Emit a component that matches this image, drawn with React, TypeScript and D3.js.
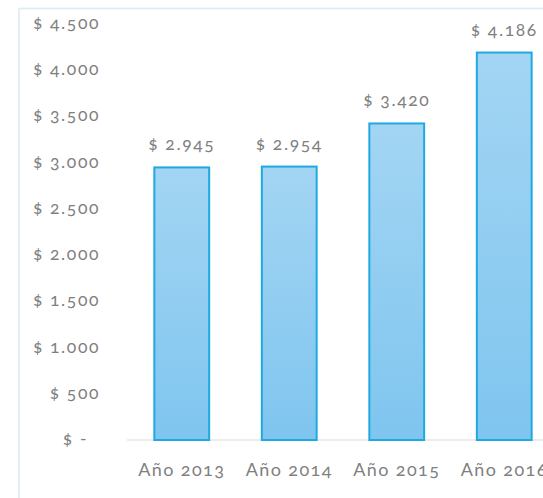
import React from "react";
import * as d3 from "d3";

const categories = ["Año 2013", "Año 2014", "Año 2015", "Año 2016"];
const values = [2945, 2954, 3420, 4186];
const valueLabels = ["$ 2.945", "$ 2.954", "$ 3.420", "$ 4.186"];
const yTicks = [0, 500, 1000, 1500, 2000, 2500, 3000, 3500, 4000, 4500];
const yTickLabels = ["$ -", "$ 500", "$ 1.000", "$ 1.500", "$ 2.000", "$ 2.500", "$ 3.000", "$ 3.500", "$ 4.000", "$ 4.500"];

const W = 543;
const H = 498;
const FONT = "Lato, 'Open Sans', sans-serif";
const TEXT = "#808080";
const txtStyle = { fontVariantNumeric: "oldstyle-nums", letterSpacing: "1.6px" } as React.CSSProperties;

export default function App() {
  const x = d3.scaleBand<string>().domain(categories).range([128, 558]).paddingInner(0.49).paddingOuter(0.245);
  const y = d3.scaleLinear().domain([0, 4500]).range([440, 23.5]);
  return (
    <svg width={W} height={H} style={{ position: "absolute", left: 0, top: 0, background: "#fff" }}
      fontFamily={FONT}>
      <defs>
        <linearGradient id="bg" x1="0" y1="0" x2="0" y2="1">
          <stop offset="0%" stopColor="#a3d5f3" />
          <stop offset="100%" stopColor="#7fc5ef" />
        </linearGradient>
      </defs>
      <rect x={19} y={8.5} width={W} height={H} fill="none" stroke="#dcecf3" strokeWidth={1.6} />
      <line x1={127} x2={W} y1={y(0)} y2={y(0)} stroke="#d9d9d9" strokeWidth={1.2} />
      {yTicks.map((t, i) => (
        <text key={t} x={t === 0 ? 88 : 100} y={y(t)} dy="0.3em" textAnchor="end" fill={TEXT}
          fontSize={17.5} style={txtStyle}>
          {yTickLabels[i]}
        </text>
      ))}
      {categories.map((c, i) => {
        const bx = x(c)!;
        const bw = x.bandwidth();
        return (
          <g key={c}>
            <rect x={bx} y={y(values[i])} width={bw} height={y(0) - y(values[i])}
              fill="url(#bg)" stroke="#1fa9e1" strokeWidth={2} />
            <text x={bx + bw / 2} y={y(values[i]) - 17} textAnchor="middle" fill={TEXT} fontSize={17.5}
              style={txtStyle}>
              {valueLabels[i]}
            </text>
            <text x={bx + bw / 2} y={476} textAnchor="middle" fill={TEXT} fontSize={18}
              style={{ ...txtStyle, letterSpacing: "1.4px" }}>
              {c}
            </text>
          </g>
        );
      })}
    </svg>
  );
}
